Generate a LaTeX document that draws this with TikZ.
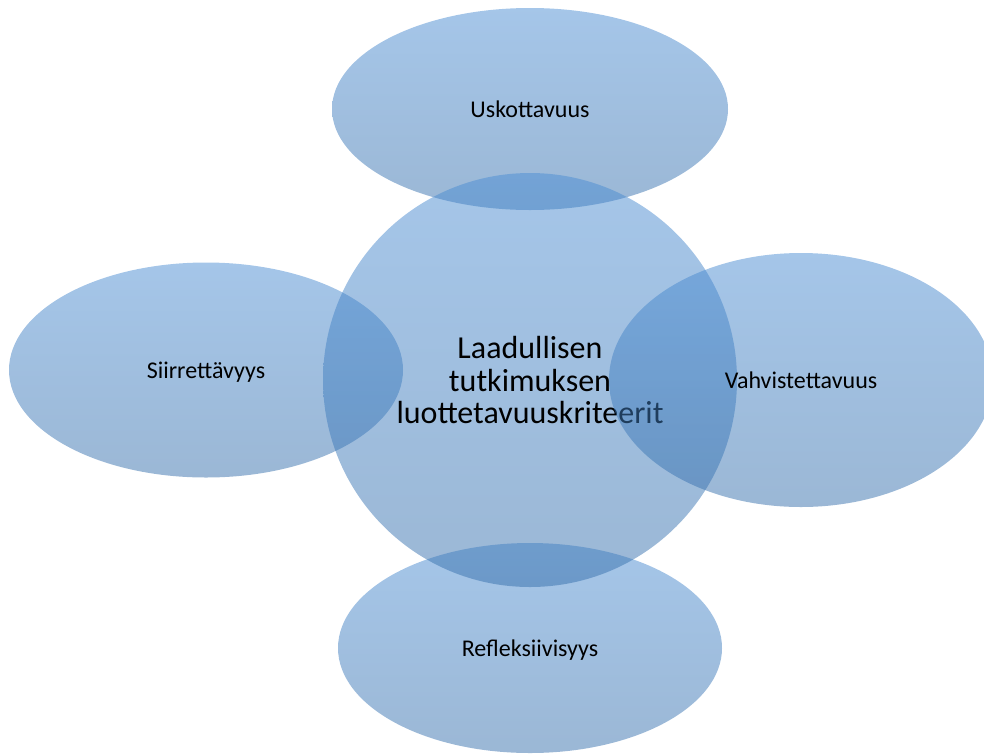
\documentclass[tikz,border=0pt]{standalone}
\usepackage{fontspec}
\setmainfont{Carlito}
\usetikzlibrary{shapes.geometric}

\definecolor{bubtop}{RGB}{75,141,211}
\definecolor{bubbot}{RGB}{55,112,172}

\tikzset{
  bubble/.style={ellipse, inner sep=0pt, top color=bubtop, bottom color=bubbot,
    fill opacity=0.5, text opacity=1, text=black,
    text height=17pt, text depth=0pt,
    font=\fontsize{24}{28}\selectfont},
  hub/.style={circle, inner sep=0pt, top color=bubtop, bottom color=bubbot,
    fill opacity=0.5, text opacity=1, text=black, align=center,
    font=\fontsize{32}{32.5}\selectfont},
}

\begin{document}
\begin{tikzpicture}[x=1pt, y=-1pt]
  \useasboundingbox (0,0) rectangle (984,753);

  % outer criteria
  \node[bubble, minimum width=396pt, minimum height=202pt] (usk) at (530,109) {Uskottavuus};
  \node[bubble, minimum width=394pt, minimum height=215pt] (siir) at (206,370) {Siirrettävyys};
  \node[bubble, minimum width=384pt, minimum height=210pt] (refl) at (530,648) {Refleksiivisyys};

  % central concept
  \node[hub, minimum size=414pt] (core) at (530,380)
    {Laadullisen\\tutkimuksen\\luottetavuuskriteerit};

  % drawn last so it lies over the central text
  \node[bubble, minimum width=384pt, minimum height=254pt] (vahv) at (801,380) {Vahvistettavuus};
\end{tikzpicture}
\end{document}
